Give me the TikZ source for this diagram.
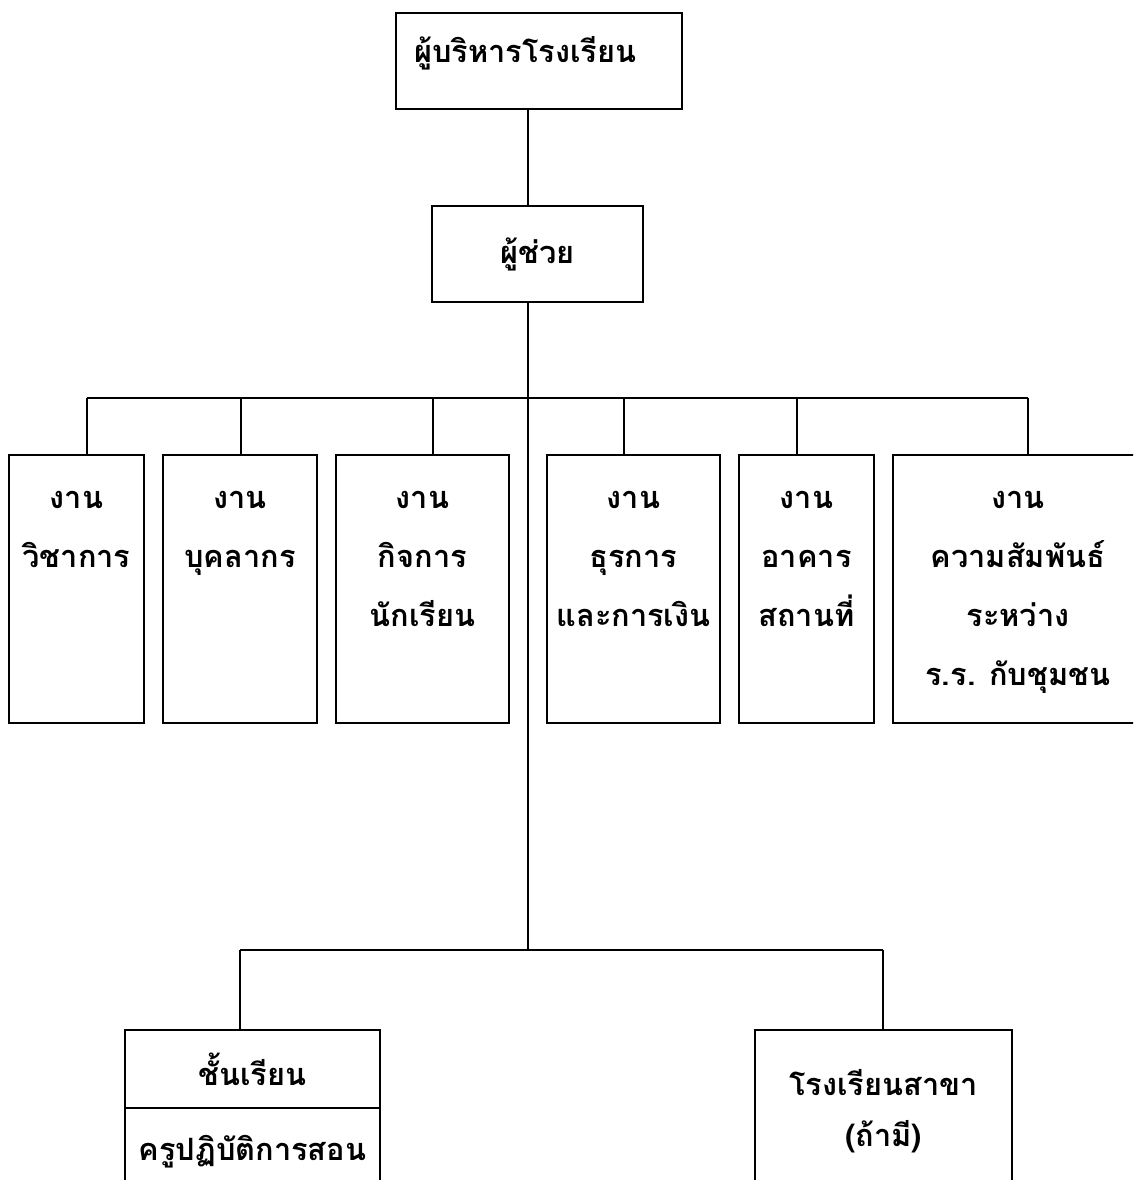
\documentclass[tikz,border=0pt]{standalone}
\usepackage{fontspec}
\newfontfamily\thaifont[Script=Thai]{Loma}
\usetikzlibrary{positioning}

\begin{document}
\begin{tikzpicture}[
  x=0.02cm, y=-0.02cm,
  font=\fontsize{17.5}{33.6}\selectfont\thaifont\bfseries,
  box/.style={draw, line width=1.2pt, rectangle, inner sep=0pt},
  workbox/.style={box, minimum height=5.36cm},
  worktext/.style={anchor=north, yshift=-0.74cm, align=center, inner sep=0pt},
  link/.style={line width=0.9pt},
]

\path[use as bounding box] (0,0) rectangle (1133,1180);
\clip (0,0) rectangle (1133,1180);

% top of the chart
\node (head) [box, minimum width=5.72cm, minimum height=1.92cm,
  label={[anchor=west, xshift=0.38cm, yshift=0.16cm, inner sep=0pt]west:{ผู้บริหารโรงเรียน}}] at (539,61) {};
\node (asst) [box, minimum width=4.22cm, minimum height=1.92cm] at (537.5,254) {ผู้ช่วย};

\coordinate (hub) at (528,398);
\coordinate (low) at (528,950);

\draw[link] (head.south -| hub) -- (asst.north -| hub);
\draw[link] (asst.south -| hub) -- (low);

% work groups
\foreach \i/\xc/\w/\dx/\txt in {
  1/76.5/2.7cm/87/{งาน\\วิชาการ},
  2/240/3.08cm/241/{งาน\\บุคลากร},
  3/422.5/3.46cm/433/{งาน\\กิจการ\\นักเรียน},
  4/633.5/3.46cm/624/{งาน\\ธุรการ\\และการเงิน},
  5/806.5/2.7cm/797/{งาน\\อาคาร\\สถานที่},
  6/1018/5.0cm/1028/{งาน\\ความสัมพันธ์\\ระหว่าง\\ร.ร. กับชุมชน}} {
  \node (w\i) [workbox, minimum width=\w, label={[worktext]north:{\txt}}] at (\xc,589) {};
  \coordinate (d\i) at (\dx,398);
  \draw[link] (d\i) -- (d\i |- w\i.north);
}
\draw[link] (d1) -- (d6);

% classes and branch school
\node (cls) [box, minimum width=5.1cm, minimum height=1.56cm] at (252.5,1069) {ชั้นเรียน};
\node (teach) [box, minimum width=5.1cm, minimum height=1.76cm] at (252.5,1152) {ครูปฏิบัติการสอน};
\node (branch) [box, minimum width=5.14cm, minimum height=4cm,
  label={[worktext, yshift=-0.06cm, font=\fontsize{17.5}{29}\selectfont\thaifont\bfseries]north:{โรงเรียนสาขา\\(ถ้ามี)}}] at (883.5,1130) {};

\coordinate (e1) at (240,950);
\coordinate (e2) at (883,950);
\draw[link] (e1) -- (e2);
\draw[link] (e1) -- (e1 |- cls.north);
\draw[link] (e2) -- (e2 |- branch.north);

\end{tikzpicture}
\end{document}
